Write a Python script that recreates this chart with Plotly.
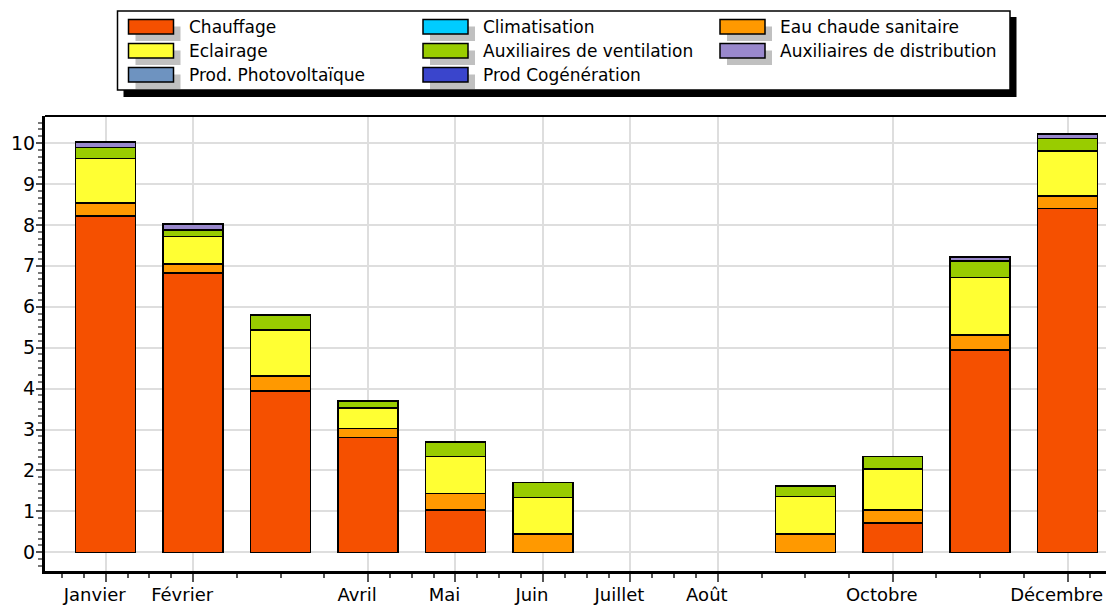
import plotly.graph_objects as go

months = ["Janvier", "Février", "Mars", "Avril", "Mai", "Juin", "Juillet",
          "Août", "Septembre", "Octobre", "Novembre", "Décembre"]
shown_months = ["Janvier", "Février", "Avril", "Mai", "Juin", "Juillet",
                "Août", "Octobre", "Décembre"]

chauffage      = [8.22, 6.82, 3.94, 2.81, 1.03, 0, 0, 0, 0, 0.72, 4.94, 8.40]
eau_chaude     = [0.31, 0.22, 0.37, 0.22, 0.41, 0.45, 0, 0, 0.45, 0.31, 0.37, 0.31]
eclairage      = [1.09, 0.67, 1.12, 0.50, 0.90, 0.89, 0, 0, 0.91, 1.00, 1.40, 1.10]
aux_ventil     = [0.27, 0.16, 0.37, 0.17, 0.36, 0.36, 0, 0, 0.26, 0.31, 0.41, 0.30]
aux_distrib    = [0.13, 0.15, 0, 0, 0, 0, 0, 0, 0, 0, 0.10, 0.11]
climatisation  = [0] * 12
prod_pv        = [0] * 12
prod_cogen     = [0] * 12

# stacking order (bottom -> top)
stack = [
    ("Chauffage", chauffage, "#F55000"),
    ("Eau chaude sanitaire", eau_chaude, "#FF9900"),
    ("Eclairage", eclairage, "#FFFF33"),
    ("Auxiliaires de ventilation", aux_ventil, "#99CC00"),
    ("Auxiliaires de distribution", aux_distrib, "#9988CC"),
    ("Climatisation", climatisation, "#00CCFF"),
    ("Prod. Photovoltaïque", prod_pv, "#6E93C0"),
    ("Prod Cogénération", prod_cogen, "#3A45CC"),
]
colors = {n: c for n, _, c in stack}
legend_order = ["Chauffage", "Climatisation", "Eau chaude sanitaire",
                "Eclairage", "Auxiliaires de ventilation", "Auxiliaires de distribution",
                "Prod. Photovoltaïque", "Prod Cogénération"]

xpos = list(range(1, len(months) + 1))
month_idx = {m: i + 1 for i, m in enumerate(months)}

fig = go.Figure()
for name, vals, col in stack:
    fig.add_trace(go.Bar(
        x=xpos, y=[v if v else None for v in vals], name=name,
        marker=dict(color=col, line=dict(color="black", width=1.5)),
        width=0.686, showlegend=False,
        hovertext=months,
    ))

# page geometry (pixels); the page body adds an 8px offset
OFF = 8
PW, PH = 1114, 607
L, R, T, B = 45, 1114, 116, 571

def px(x):
    return (x - L) / (R - L)

def py(y):
    return (B - y) / (B - T)

major = [month_idx[m] for m in shown_months]
minor = []
for a, b in zip(major[:-1], major[1:]):
    st = (b - a) / 4
    minor += [a + st * k for k in (1, 2, 3)]
minor = [major[0] - 0.5, major[0] - 0.25] + minor + [major[-1] + 0.25, major[-1] + 0.5]

font = "DejaVu Sans"
shapes = []
annotations = []

# legend box with shadow
shapes.append(dict(type="rect", xref="paper", yref="paper",
                   x0=px(123.5), x1=px(1016.5), y0=py(97), y1=py(17),
                   fillcolor="black", line=dict(width=0), layer="above"))
shapes.append(dict(type="rect", xref="paper", yref="paper",
                   x0=px(117.5), x1=px(1010), y0=py(90), y1=py(11),
                   fillcolor="white", line=dict(color="black", width=1.5), layer="above"))
col_x = [128.5, 423, 720]
for i, name in enumerate(legend_order):
    r, c = divmod(i, 3)
    cy = 26.7 + r * 24
    x0 = col_x[c]
    shapes.append(dict(type="rect", xref="paper", yref="paper",
                       x0=px(x0 + 7), x1=px(x0 + 45 + 7), y0=py(cy + 7.3 + 7), y1=py(cy - 7.3 + 7),
                       fillcolor="#C0C0C0", line=dict(width=0), layer="above"))
    shapes.append(dict(type="rect", xref="paper", yref="paper",
                       x0=px(x0), x1=px(x0 + 45), y0=py(cy + 7.3), y1=py(cy - 7.3),
                       fillcolor=colors[name], line=dict(color="black", width=1.5), layer="above"))
    annotations.append(dict(xref="paper", yref="paper", x=px(x0 + 58), y=py(cy),
                            xanchor="left", yanchor="middle", text=name, showarrow=False,
                            font=dict(family=font, size=17, color="black")))

# top border
shapes.append(dict(type="line", xref="paper", yref="paper", x0=0, x1=1, y0=1, y1=1,
                   line=dict(color="black", width=2)))

fig.update_layout(
    width=PW - OFF, height=PH - OFF,
    margin=dict(l=L - OFF, r=PW - R, t=T - OFF, b=PH - B, pad=0),
    paper_bgcolor="white", plot_bgcolor="white",
    barmode="stack",
    font=dict(family=font, size=19, color="black"),
    shapes=shapes, annotations=annotations,
    xaxis=dict(
        range=[0.306, 12.53], tickmode="array", tickvals=major, ticktext=shown_months,
        showgrid=True, gridcolor="#DEDEDE", gridwidth=1.5,
        ticks="outside", ticklen=8, tickwidth=1.5, tickcolor="#555555",
        showline=True, linewidth=3, linecolor="black", zeroline=False,
        tickfont=dict(family=font, size=18, color="black"), automargin=False,
        ticklabeloverflow="allow", ticklabelshift=-11, ticklabelstandoff=-3,
        minor=dict(tickmode="array", tickvals=minor, ticks="outside", ticklen=4,
                   tickwidth=1.5, tickcolor="#555555", showgrid=False),
    ),
    yaxis=dict(
        range=[-0.457, 10.66], tick0=0, dtick=1,
        showgrid=True, gridcolor="#DEDEDE", gridwidth=1.5,
        ticks="outside", ticklen=6, tickwidth=1.5, tickcolor="#555555",
        showline=True, linewidth=3, linecolor="black", zeroline=False,
        tickfont=dict(family=font, size=19, color="black"), automargin=False,
        ticklabelstandoff=-3,
        minor=dict(tick0=0, dtick=1 / 6, ticks="outside", ticklen=4,
                   tickwidth=1.5, tickcolor="#777777", showgrid=False),
    ),
)

fig.write_html("out.html")
